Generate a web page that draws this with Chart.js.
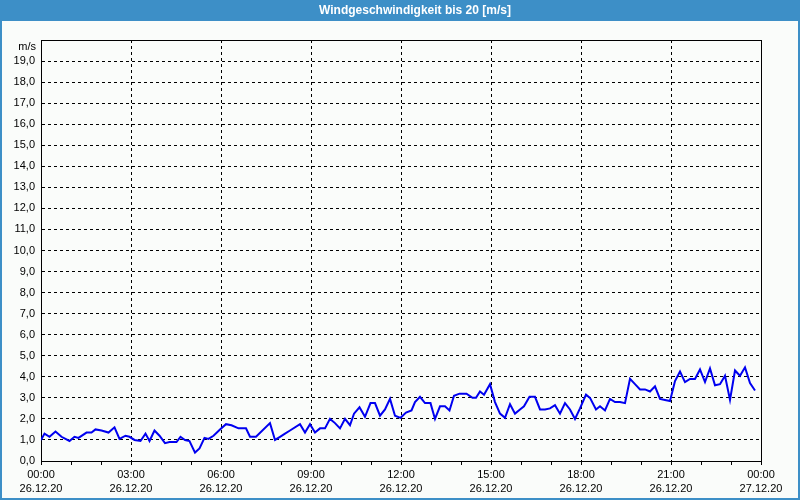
<!doctype html>
<html>
<head>
<meta charset="utf-8" />
<title>Windgeschwindigkeit</title>
<style>
	html, body { margin: 0; padding: 0; background: #ffffff; }
	canvas { display: block; }
</style>
<script src="https://cdn.jsdelivr.net/npm/chart.js@4/dist/chart.umd.min.js"></script>
</head>
<body>
<canvas id="canvas" width="800" height="500"></canvas>
<script>

var chartTitle = 'Windgeschwindigkeit bis 20 [m/s]';
var unitLabel = 'm/s';

// minutes since 26.12.20 00:00
var minutes = [
	0, 7, 17, 29, 41, 49, 57, 67, 75, 91, 101, 109, 121, 135, 147, 157, 169, 177, 187, 199,
	209, 217, 227, 237, 248, 257, 271, 279, 288, 297, 308, 317, 327, 335, 345, 358, 370, 381, 395, 410,
	418, 430, 458, 468, 478, 488, 498, 518, 528, 538, 548, 558, 568, 578, 588, 598, 608, 618, 626, 637,
	648, 659, 668, 678, 688, 698, 708, 719, 730, 741, 748, 758, 768, 779, 788, 798, 808, 817, 826, 837,
	851, 863, 870, 878, 886, 898, 908, 918, 928, 938, 948, 958, 966, 977, 988, 998, 1008, 1018, 1028, 1038,
	1048, 1058, 1068, 1078, 1090, 1098, 1110, 1118, 1128, 1138, 1148, 1158, 1168, 1178, 1188, 1198, 1208, 1218, 1228, 1238,
	1248, 1258, 1268, 1278, 1288, 1298, 1308, 1318, 1328, 1338, 1348, 1358, 1368, 1378, 1388, 1398, 1408, 1418, 1428
];

// wind speed in m/s
var speed = [
	1.0, 1.3, 1.15, 1.4, 1.15, 1.05, 0.95, 1.15, 1.1, 1.35, 1.35, 1.5, 1.45, 1.35, 1.6, 1.05, 1.2, 1.15, 1.0, 0.95,
	1.3, 0.95, 1.45, 1.2, 0.85, 0.9, 0.9, 1.15, 1.0, 0.95, 0.4, 0.6, 1.1, 1.05, 1.2, 1.5, 1.75, 1.7, 1.55, 1.55,
	1.15, 1.15, 1.8, 1.0, 1.15, 1.3, 1.45, 1.75, 1.35, 1.75, 1.35, 1.55, 1.55, 2.0, 1.8, 1.55, 2.0, 1.7, 2.25, 2.55,
	2.1, 2.75, 2.75, 2.15, 2.45, 2.95, 2.15, 2.05, 2.3, 2.4, 2.8, 3.05, 2.75, 2.75, 2.0, 2.6, 2.6, 2.4, 3.1, 3.2,
	3.2, 3.0, 3.0, 3.3, 3.15, 3.65, 2.8, 2.25, 2.05, 2.7, 2.25, 2.45, 2.6, 3.05, 3.05, 2.45, 2.45, 2.5, 2.65, 2.25,
	2.75, 2.45, 2.0, 2.5, 3.15, 3.0, 2.45, 2.6, 2.4, 2.95, 2.8, 2.8, 2.75, 3.9, 3.65, 3.4, 3.4, 3.3, 3.55, 2.95,
	2.9, 2.85, 3.8, 4.25, 3.75, 3.9, 3.9, 4.35, 3.75, 4.4, 3.6, 3.65, 4.05, 2.9, 4.3, 4.05, 4.45, 3.7, 3.35
];

var timeLabels = ['00:00', '03:00', '06:00', '09:00', '12:00', '15:00', '18:00', '21:00', '00:00'];
var dateLabels = ['26.12.20', '26.12.20', '26.12.20', '26.12.20', '26.12.20', '26.12.20', '26.12.20', '26.12.20', '27.12.20'];

var FONT = '"Liberation Sans", Arial, sans-serif';

var windowFrame = {
	id: 'windowFrame',
	beforeDraw: function(chart) {
		var ctx = chart.ctx;
		ctx.save();
		ctx.fillStyle = '#fafcfa';
		ctx.fillRect(0, 0, 800, 500);
		ctx.fillStyle = '#3d8fc7';
		ctx.fillRect(0, 0, 800, 21);
		ctx.fillRect(0, 0, 2, 500);
		ctx.fillRect(798, 0, 2, 500);
		ctx.fillRect(0, 498, 800, 2);
		ctx.fillStyle = '#ffffff';
		ctx.font = 'bold 12px ' + FONT;
		ctx.textAlign = 'center';
		ctx.textBaseline = 'middle';
		ctx.fillText(chartTitle, 415, 11);
		ctx.restore();
	},
	afterDraw: function(chart) {
		var ctx = chart.ctx;
		var a = chart.chartArea;
		ctx.save();
		ctx.strokeStyle = '#000000';
		ctx.lineWidth = 1;
		ctx.beginPath();
		ctx.moveTo(Math.round(a.left) + 0.5, Math.round(a.top) + 0.5);
		ctx.lineTo(Math.round(a.right) + 0.5, Math.round(a.top) + 0.5);
		ctx.lineTo(Math.round(a.right) + 0.5, Math.round(a.bottom) + 0.5);
		ctx.stroke();
		ctx.fillStyle = '#000000';
		ctx.font = '11px ' + FONT;
		ctx.textAlign = 'right';
		ctx.textBaseline = 'middle';
		ctx.fillText(unitLabel, 36, 47);
		ctx.restore();
	}
};

var points = minutes.map(function(m, i) { return { x: m, y: speed[i] }; });

new Chart(document.getElementById('canvas').getContext('2d'), {
	type: 'line',
	data: {
		datasets: [{
			data: points,
			borderColor: '#0000f0',
			borderWidth: 2,
			pointRadius: 0,
			tension: 0,
			fill: false
		}]
	},
	options: {
		responsive: false,
		animation: false,
		layout: { padding: { top: 40, left: 0, right: 39, bottom: 0 } },
		plugins: {
			legend: { display: false },
			tooltip: { enabled: false }
		},
		scales: {
			x: {
				type: 'linear',
				min: 0,
				max: 1440,
				afterFit: function(scale) { scale.height = 39; },
				ticks: {
					stepSize: 60,
					autoSkip: false,
					maxRotation: 0,
					padding: 3,
					color: '#000000',
					font: { family: FONT, size: 11, lineHeight: 1.25 },
					callback: function(v) {
						if (v % 180 !== 0) return '';
						var i = v / 180;
						return [timeLabels[i], dateLabels[i]];
					}
				},
				grid: {
					color: function(c) {
						return (c.tick && c.tick.value % 180 === 0) ? '#000000' : 'rgba(0,0,0,0)';
					},
					tickColor: '#000000',
					tickLength: 4,
					lineWidth: 1
				},
				border: { color: '#000000', dash: [3, 3] }
			},
			y: {
				min: 0,
				max: 20,
				afterFit: function(scale) { scale.width = 41; },
				ticks: {
					stepSize: 1,
					padding: 6,
					color: '#000000',
					font: { family: FONT, size: 11 },
					callback: function(v) {
						if (v === 20) return '';
						return v.toFixed(1).replace('.', ',');
					}
				},
				grid: {
					color: '#000000',
					drawTicks: false,
					lineWidth: 1
				},
				border: { color: '#000000', dash: [3, 3] }
			}
		}
	},
	plugins: [windowFrame]
});

</script>
</body>
</html>
